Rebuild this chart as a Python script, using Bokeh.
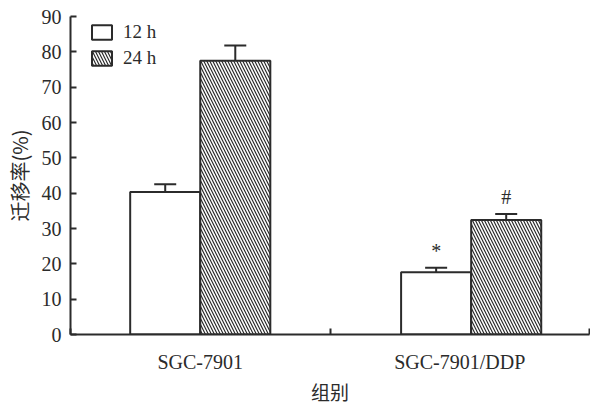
from bokeh.plotting import figure
from bokeh.models import (ColumnDataSource, FixedTicker, Legend, LegendItem,
                          Whisker, TeeHead, Range1d)
from bokeh.core.properties import value
from bokeh.embed import file_html
from bokeh.resources import INLINE

# ---- data ----
groups = ["SGC-7901", "SGC-7901/DDP"]
series = ["12 h", "24 h"]
mean_12h = [40.3, 17.6]
err_12h = [2.2, 1.3]
mean_24h = [77.5, 32.4]
err_24h = [4.3, 1.7]
marks_12h = ["", "*"]
marks_24h = ["", "#"]
y_ticks = [0, 10, 20, 30, 40, 50, 60, 70, 80, 90]
x_title = "组别"
y_title = "迁移率(%)"

INK = "#2b2b2b"
SERIF = "Liberation Serif"
CJK = "Noto Sans CJK SC"

# positions derived from category index
centers = [i + 0.5 for i in range(len(groups))]
shift = [0.0, 0.044]
bw = 0.27
x12 = [c + s - bw / 2 for c, s in zip(centers, shift)]
x24 = [c + s + bw / 2 for c, s in zip(centers, shift)]

src12 = ColumnDataSource(dict(x=x12, top=mean_12h,
                              upper=[m + e for m, e in zip(mean_12h, err_12h)],
                              mark=marks_12h))
src24 = ColumnDataSource(dict(x=x24, top=mean_24h,
                              upper=[m + e for m, e in zip(mean_24h, err_24h)],
                              mark=marks_24h))

p = figure(width=590, height=407, output_backend="svg", toolbar_location=None,
           x_range=Range1d(0, len(groups)), y_range=Range1d(0, 90),
           min_border_left=70, min_border_right=1, min_border_top=16,
           min_border_bottom=73)
p.grid.visible = False
p.outline_line_color = None
p.background_fill_color = "white"
p.border_fill_color = "white"

r12 = p.vbar(x="x", top="top", width=bw, source=src12, fill_color="white",
             line_color=INK, line_width=2)
r24 = p.vbar(x="x", top="top", width=bw, source=src24, fill_color="white",
             line_color=INK, line_width=2, hatch_pattern="\\",
             hatch_color=INK, hatch_scale=6, hatch_weight=1.2)

for src in (src12, src24):
    w = Whisker(source=src, base="x", lower="top", upper="upper",
                dimension="height", line_color=INK, line_width=2,
                upper_head=TeeHead(size=22, line_color=INK, line_width=2),
                lower_head=None)
    p.add_layout(w)
    p.text(x="x", y="upper", text="mark", source=src, text_align="center",
           text_baseline="alphabetic", y_offset=-17,
           text_font=value(SERIF), text_font_size="20px", text_color=INK)

# axes
yax = p.yaxis[0]
yax.ticker = FixedTicker(ticks=y_ticks)
yax.major_tick_in = 6
yax.major_tick_out = 0
yax.minor_tick_line_color = None
yax.axis_line_width = 2
yax.axis_line_color = INK
yax.major_tick_line_width = 2
yax.major_tick_line_color = INK
yax.major_label_text_font = SERIF
yax.major_label_text_font_size = "20px"
yax.major_label_text_color = INK
yax.major_label_standoff = 9
yax.axis_label = y_title
yax.axis_label_text_font = CJK
yax.axis_label_text_font_size = "20px"
yax.axis_label_text_font_style = "normal"
yax.axis_label_text_color = INK
yax.axis_label_standoff = 5

xax = p.xaxis[0]
xax.ticker = FixedTicker(ticks=centers,
                         minor_ticks=[float(i) for i in range(len(groups) + 1)])
xax.major_label_overrides = {c: g for c, g in zip(centers, groups)}
xax.major_tick_in = 0
xax.major_tick_out = 0
xax.minor_tick_in = 6
xax.minor_tick_out = 0
xax.minor_tick_line_width = 2
xax.minor_tick_line_color = INK
xax.axis_line_width = 2
xax.axis_line_color = INK
xax.major_label_text_font = SERIF
xax.major_label_text_font_size = "20px"
xax.major_label_text_color = INK
xax.major_label_standoff = 16
xax.axis_label = x_title
xax.axis_label_text_font = CJK
xax.axis_label_text_font_size = "19px"
xax.axis_label_text_font_style = "normal"
xax.axis_label_text_color = INK
xax.axis_label_standoff = 2

legend = Legend(items=[LegendItem(label=series[0], renderers=[r12]),
                       LegendItem(label=series[1], renderers=[r24])],
                location=(19, 318 - 5 - 48), orientation="vertical",
                glyph_width=25, glyph_height=18, label_height=18,
                label_width=30, spacing=4, padding=0, margin=0,
                label_standoff=9, border_line_color=None,
                background_fill_alpha=0,
                label_text_font=SERIF, label_text_font_size="19px",
                label_text_color=INK)
p.add_layout(legend)

open("out.html", "w").write(file_html(p, INLINE))
